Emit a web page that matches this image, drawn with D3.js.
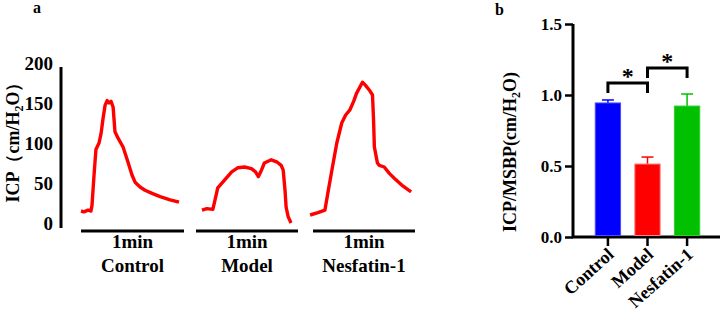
<!DOCTYPE html>
<html>
<head>
<meta charset="utf-8">
<script src="https://cdn.jsdelivr.net/npm/d3@7"></script>
<style>
  body { margin: 0; background: #fff; }
  text { font-family: "Liberation Serif", "Times New Roman", serif; font-weight: bold; fill: #000; }
</style>
</head>
<body>
<div id="chart"></div>
<script>
// traces: [seconds, ICP cmH2O]
var controlTrace = [[0,15],[1.7,14],[4.1,16],[5.8,15],[6.4,22],[7.6,60],[8.7,92],[10.5,100],[11.7,112],[12.8,130],[14.0,147],[15.2,153],[16.3,150],[17.5,152],[18.7,145],[19.8,114],[21.6,106],[24.5,95],[27.4,76],[29.7,60],[31.5,51],[34.4,45],[37.3,41],[41.4,37],[46.1,33],[51.9,29],[57.1,26]];
var modelTrace = [[3.5,16],[6.4,18],[9.9,17],[11.1,28],[12.8,44],[16.9,54],[21.0,64],[24.5,69],[28.6,70],[32.6,68],[35.0,64],[36.7,58],[38.5,66],[40.2,75],[44.3,79],[47.8,76],[50.1,72],[51.3,66],[52.4,40],[53.0,20],[54.2,8],[55.9,0]];
var nesfatinTrace = [[-1.7,10],[2.9,13],[7.0,16],[8.7,37],[11.1,66],[14.0,100],[16.9,125],[19.2,135],[21.6,141],[23.9,152],[25.6,162],[29.1,176],[30.9,172],[33.2,166],[35.0,160],[35.6,130],[36.1,95],[37.9,75],[39.0,72],[41.9,70],[44.9,62],[47.8,56],[53.0,46],[57.7,39]];

var groups = ["Control", "Model", "Nesfatin-1"];
var ratioMeans = [0.944, 0.514, 0.922];
var ratioErr = [0.021, 0.049, 0.085];
var icpTicks = [0, 50, 100, 150, 200];
var ratioTicks = [0.0, 0.5, 1.0, 1.5];
var sigPairs = [[0, 1], [1, 2]];

var svg = d3.select("#chart").append("svg")
    .attr("width", 724)
    .attr("height", 318);

// ---------- panel a ----------
svg.append("text").attr("x", 33).attr("y", 13).style("font-size", "16px").text("a");

var yA = d3.scaleLinear().domain([0, 200]).range([223, 63]);

svg.append("line")
    .attr("x1", 61).attr("x2", 61)
    .attr("y1", 67).attr("y2", 228)
    .attr("stroke", "#000").attr("stroke-width", 3);

svg.selectAll(".tickA")
    .data(icpTicks)
    .join("text")
    .attr("class", "tickA")
    .attr("x", 53)
    .attr("y", d => yA(d))
    .attr("dy", "0.35em")
    .attr("text-anchor", "end")
    .style("font-size", "19px")
    .text(d => d);

var ylabA = svg.append("text")
    .attr("transform", "translate(19,138) rotate(-90)")
    .attr("text-anchor", "middle")
    .style("font-size", "18px");
ylabA.append("tspan").text("ICP（cm/H");
ylabA.append("tspan").attr("dy", 4).style("font-size", "12px").text("2");
ylabA.append("tspan").attr("dy", -4).text("O）");

var panels = [
    { name: "Control", data: controlTrace, x0: 81, x1: 184 },
    { name: "Model", data: modelTrace, x0: 196, x1: 298 },
    { name: "Nesfatin-1", data: nesfatinTrace, x0: 313, x1: 415 }
];

panels.forEach(function (p) {
    var x = d3.scaleLinear().domain([0, 60]).range([p.x0, p.x1]);

    svg.append("path")
        .datum(p.data)
        .attr("fill", "none")
        .attr("stroke", "#ff0000")
        .attr("stroke-width", 3.4)
        .attr("stroke-linejoin", "round")
        .attr("d", d3.line().x(d => x(d[0])).y(d => yA(d[1])));

    // 1 min scale bar
    svg.append("line")
        .attr("x1", x(0)).attr("x2", x(60))
        .attr("y1", 231).attr("y2", 231)
        .attr("stroke", "#000").attr("stroke-width", 3);

    svg.append("text")
        .attr("x", x(30)).attr("y", 248)
        .attr("text-anchor", "middle")
        .style("font-size", "19px")
        .text("1min");

    svg.append("text")
        .attr("x", x(30)).attr("y", 272)
        .attr("text-anchor", "middle")
        .style("font-size", "19px")
        .text(p.name);
});

// ---------- panel b ----------
svg.append("text").attr("x", 495).attr("y", 15).style("font-size", "16px").text("b");

var yB = d3.scaleLinear().domain([0, 1.5]).range([237, 24]);
var xB = d3.scaleBand().domain(groups).range([581, 714]).padding(0.36);
var colors = ["#0000ff", "#ff0000", "#00c000"];
var edges = ["#4d4dff", "#ff8080", "#33cc33"];

var axisB = svg.append("g").attr("transform", "translate(573,0)")
    .call(d3.axisLeft(yB).tickValues(ratioTicks).tickFormat(d3.format(".1f")).tickSize(8));
axisB.select(".domain").attr("stroke-width", 3).attr("d", "M0," + yB(1.5) + "V" + yB(0));
axisB.selectAll(".tick line").attr("stroke-width", 2.5);
axisB.selectAll(".tick text")
    .attr("x", -11)
    .style("font-family", "'Liberation Serif', serif")
    .style("font-weight", "bold")
    .style("font-size", "17px");

svg.append("line")
    .attr("x1", 572).attr("x2", 720)
    .attr("y1", yB(0)).attr("y2", yB(0))
    .attr("stroke", "#000").attr("stroke-width", 3);

svg.selectAll(".xtick")
    .data(groups)
    .join("line")
    .attr("class", "xtick")
    .attr("x1", d => xB(d) + xB.bandwidth() / 2)
    .attr("x2", d => xB(d) + xB.bandwidth() / 2)
    .attr("y1", yB(0)).attr("y2", yB(0) + 9)
    .attr("stroke", "#000").attr("stroke-width", 2.5);

// error bars (drawn first, bar covers lower half)
svg.selectAll(".err")
    .data(groups)
    .join("g")
    .attr("class", "err")
    .each(function (d, i) {
        var g = d3.select(this);
        var cx = xB(d) + xB.bandwidth() / 2;
        var top = yB(ratioMeans[i] + ratioErr[i]);
        g.append("line").attr("x1", cx).attr("x2", cx)
            .attr("y1", yB(ratioMeans[i])).attr("y2", top)
            .attr("stroke", colors[i]).attr("stroke-width", 1.5);
        g.append("line").attr("x1", cx - 6).attr("x2", cx + 6)
            .attr("y1", top).attr("y2", top)
            .attr("stroke", colors[i]).attr("stroke-width", 1.5);
    });

svg.selectAll(".bar")
    .data(groups)
    .join("rect")
    .attr("class", "bar")
    .attr("x", d => xB(d))
    .attr("y", (d, i) => yB(ratioMeans[i]))
    .attr("width", xB.bandwidth())
    .attr("height", (d, i) => yB(0) - yB(ratioMeans[i]) - 1.5)
    .attr("fill", (d, i) => colors[i])
    .attr("stroke", (d, i) => edges[i])
    .attr("stroke-width", 1);

// significance brackets
var bracketY = [83, 68];
sigPairs.forEach(function (pr, k) {
    var xa = xB(groups[pr[0]]) + xB.bandwidth() / 2;
    var xb = xB(groups[pr[1]]) + xB.bandwidth() / 2;
    var y0 = bracketY[k];
    svg.append("path")
        .attr("d", "M" + xa + "," + (y0 + 10) + "V" + y0 + "H" + xb + "V" + (y0 + 10))
        .attr("fill", "none").attr("stroke", "#000").attr("stroke-width", 3);
    svg.append("text")
        .attr("x", (xa + xb) / 2).attr("y", y0 + 1)
        .attr("text-anchor", "middle")
        .style("font-size", "24px")
        .text("*");
});

var ylabB = svg.append("text")
    .attr("transform", "translate(516,152) rotate(-90)")
    .attr("text-anchor", "middle")
    .style("font-size", "18px");
ylabB.append("tspan").text("ICP/MSBP(cm/H");
ylabB.append("tspan").attr("dy", 4).style("font-size", "12px").text("2");
ylabB.append("tspan").attr("dy", -4).text("O)");

svg.selectAll(".xlab")
    .data(groups)
    .join("text")
    .attr("class", "xlab")
    .attr("text-anchor", "end")
    .attr("transform", d => "translate(" + (xB(d) + xB.bandwidth() / 2 + 7) + "," + (yB(0) + 19) + ") rotate(-42)")
    .style("font-size", "18px")
    .text(d => d);
</script>
</body>
</html>
